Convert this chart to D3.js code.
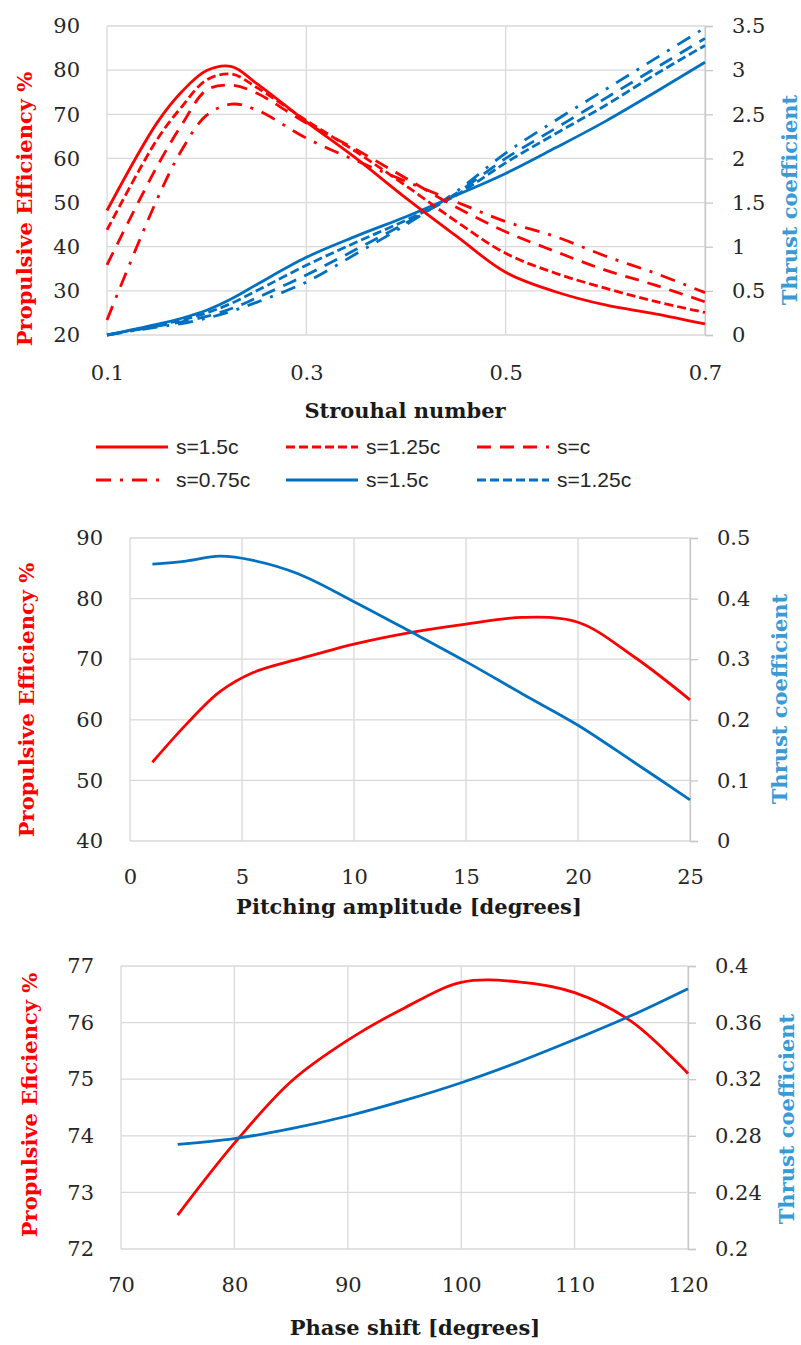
<!DOCTYPE html>
<html>
<head>
<meta charset="utf-8">
<script src="https://cdn.jsdelivr.net/npm/d3@7"></script>
<style>
  body { margin: 0; background: #fff; }
  svg { display: block; }
  .tick text { font-family: "DejaVu Serif", serif; font-size: 21px; fill: #262626; }
  .title { font-family: "DejaVu Serif", serif; font-size: 21px; font-weight: bold; }
  .legend text { font-family: "Liberation Sans", sans-serif; font-size: 21px; fill: #262626; }
</style>
</head>
<body>
<script>
// Strouhal number chart (top)
var st_x = [0.1, 0.15, 0.175, 0.2, 0.225, 0.25, 0.3, 0.35, 0.4, 0.45, 0.5, 0.55, 0.6, 0.65, 0.7];
var st_eff_150 = [48.2, 68.0, 75.1, 79.9, 80.8, 77.0, 68.3, 60.0, 51.0, 42.5, 34.2, 29.8, 26.8, 24.8, 22.5];
var st_eff_125 = [43.8, 64.2, 71.7, 77.8, 79.1, 76.1, 68.6, 61.5, 53.8, 45.8, 38.5, 34.0, 30.6, 27.6, 25.1];
var st_eff_100 = [35.9, 58.1, 67.6, 75.5, 76.6, 74.8, 68.0, 62.0, 55.5, 49.0, 43.4, 38.9, 34.7, 31.3, 27.5];
var st_eff_075 = [23.4, 50.6, 61.9, 69.8, 72.3, 71.0, 64.6, 59.5, 54.8, 50.2, 45.7, 42.3, 37.9, 34.0, 29.6];
var st_ct_150 = [0, 0.12, 0.19, 0.28, 0.41, 0.57, 0.88, 1.12, 1.34, 1.58, 1.83, 2.12, 2.42, 2.75, 3.09];
var st_ct_125 = [0, 0.11, 0.17, 0.25, 0.36, 0.50, 0.79, 1.05, 1.30, 1.58, 1.95, 2.28, 2.60, 2.95, 3.28];
var st_ct_100 = [0, 0.10, 0.15, 0.21, 0.30, 0.42, 0.68, 0.97, 1.27, 1.60, 2.00, 2.34, 2.68, 3.02, 3.36];
var st_ct_075 = [0, 0.09, 0.13, 0.19, 0.27, 0.37, 0.60, 0.92, 1.25, 1.62, 2.06, 2.43, 2.78, 3.13, 3.48];
var st_xticks = [0.1, 0.3, 0.5, 0.7];
var st_lticks = [20, 30, 40, 50, 60, 70, 80, 90];
var st_rticks = [0, 0.5, 1, 1.5, 2, 2.5, 3, 3.5];

// Pitching amplitude chart (middle)
var pa_x = [1, 2.5, 4, 5.5, 7.5, 10, 12.5, 15, 17.5, 20, 22.5, 25];
var pa_eff = [53.0, 59.2, 64.6, 67.8, 70.0, 72.5, 74.4, 75.8, 76.9, 76.1, 70.4, 63.3];
var pa_ct = [0.457, 0.462, 0.470, 0.463, 0.441, 0.395, 0.346, 0.296, 0.243, 0.191, 0.130, 0.068];
var pa_xticks = [0, 5, 10, 15, 20, 25];
var pa_lticks = [40, 50, 60, 70, 80, 90];
var pa_rticks = [0, 0.1, 0.2, 0.3, 0.4, 0.5];

// Phase shift chart (bottom)
var ps_x = [75, 80, 85, 90, 95, 100, 105, 110, 115, 120];
var ps_eff = [72.6, 73.87, 74.96, 75.69, 76.26, 76.71, 76.72, 76.53, 76.02, 75.10];
var ps_ct = [0.274, 0.278, 0.285, 0.294, 0.305, 0.3175, 0.332, 0.348, 0.365, 0.384];
var ps_xticks = [70, 80, 90, 100, 110, 120];
var ps_lticks = [72, 73, 74, 75, 76, 77];
var ps_rticks = [0.2, 0.24, 0.28, 0.32, 0.36, 0.4];

var legend_labels = ["s=1.5c", "s=1.25c", "s=c", "s=0.75c", "s=1.5c", "s=1.25c"];

var RED = "#ff0000", BLUE = "#0070c0", BLUE_T = "#3a9ad6", GRID = "#d9d9d9";
var dash = {solid: null, short: "9,4", mid: "14,9", dashdot: "15,9,3,9"};

var svg = d3.select("body").append("svg").attr("width", 801).attr("height", 1345);

function panel(p) {
    var x = d3.scaleLinear().domain(p.xdom).range([p.left, p.right]);
    var yl = d3.scaleLinear().domain(p.ldom).range([p.bottom, p.top]);
    var yr = d3.scaleLinear().domain(p.rdom).range([p.bottom, p.top]);
    var g = svg.append("g");

    // grid
    g.append("g").selectAll("line").data(p.lticks).enter().append("line")
        .attr("x1", p.left).attr("x2", p.right)
        .attr("y1", d => yl(d)).attr("y2", d => yl(d))
        .style("stroke", GRID).style("stroke-width", 1.3);
    g.append("g").selectAll("line").data(p.xticks).enter().append("line")
        .attr("x1", d => x(d)).attr("x2", d => x(d))
        .attr("y1", p.top).attr("y2", p.bottom)
        .style("stroke", GRID).style("stroke-width", 1.3);

    // left axis labels
    var la = g.append("g").attr("transform", "translate(" + p.left + ",0)")
        .call(d3.axisLeft(yl).tickValues(p.lticks).tickSize(0).tickPadding(27).tickFormat(d3.format("d")));
    la.select(".domain").remove();

    // right axis with outward ticks
    var ra = g.append("g").attr("transform", "translate(" + p.right + ",0)")
        .call(d3.axisRight(yr).tickValues(p.rticks).tickSize(8).tickPadding(19).tickFormat(d => String(d)));
    ra.select(".domain").style("stroke", "#c8c8c8").style("stroke-width", 1.3);
    ra.selectAll(".tick line").style("stroke", "#c8c8c8").style("stroke-width", 1.3);

    // bottom labels
    var ba = g.append("g").attr("transform", "translate(0," + p.bottom + ")")
        .call(d3.axisBottom(x).tickValues(p.xticks).tickSize(0).tickFormat(p.xfmt));
    ba.select(".domain").remove();
    ba.selectAll("text").attr("y", p.xlabOff).attr("dy", "0.35em");

    // series
    p.series.forEach(function(s) {
        var y = s.axis === "left" ? yl : yr;
        var line = d3.line().x((d, i) => x(p.x[i])).y(d => y(d)).curve(d3.curveCatmullRom.alpha(0.5));
        g.append("path").datum(s.values).attr("d", line)
            .style("fill", "none").style("stroke", s.color).style("stroke-width", 2.8)
            .style("stroke-dasharray", s.dash);
    });

    // titles
    g.append("text").attr("class", "title")
        .attr("transform", "translate(" + p.ltitle[0] + "," + p.ltitle[1] + ") rotate(-90)")
        .attr("text-anchor", "middle").attr("dy", "0.35em").style("fill", RED).text(p.ltext);
    g.append("text").attr("class", "title")
        .attr("transform", "translate(" + p.rtitle[0] + "," + p.rtitle[1] + ") rotate(-90)")
        .attr("text-anchor", "middle").attr("dy", "0.35em").style("fill", BLUE_T).text("Thrust coefficient");
    g.append("text").attr("class", "title")
        .attr("x", p.xtitle[0]).attr("y", p.xtitle[1]).attr("dy", "0.35em")
        .attr("text-anchor", "middle").style("fill", "#1a1a1a").text(p.xtext);
}

panel({
    x: st_x, xdom: [0.1, 0.7], ldom: [20, 90], rdom: [0, 3.5],
    left: 107, right: 705, top: 26, bottom: 335,
    xticks: st_xticks, lticks: st_lticks, rticks: st_rticks, xfmt: d3.format(".1f"), xlabOff: 38,
    ltitle: [25, 209], rtitle: [790, 200], xtitle: [405, 411],
    ltext: "Propulsive Efficiency %", xtext: "Strouhal number",
    series: [
        {values: st_ct_150, axis: "right", color: BLUE, dash: dash.solid},
        {values: st_ct_125, axis: "right", color: BLUE, dash: dash.short},
        {values: st_ct_100, axis: "right", color: BLUE, dash: dash.mid},
        {values: st_ct_075, axis: "right", color: BLUE, dash: dash.dashdot},
        {values: st_eff_150, axis: "left", color: RED, dash: dash.solid},
        {values: st_eff_125, axis: "left", color: RED, dash: dash.short},
        {values: st_eff_100, axis: "left", color: RED, dash: dash.mid},
        {values: st_eff_075, axis: "left", color: RED, dash: dash.dashdot}
    ]
});

panel({
    x: pa_x, xdom: [0, 25], ldom: [40, 90], rdom: [0, 0.5],
    left: 130, right: 690, top: 538, bottom: 841,
    xticks: pa_xticks, lticks: pa_lticks, rticks: pa_rticks, xfmt: d3.format("d"), xlabOff: 36,
    ltitle: [27, 700], rtitle: [780, 699], xtitle: [409, 907],
    ltext: "Propulsive Efficiency %", xtext: "Pitching amplitude [degrees]",
    series: [
        {values: pa_eff, axis: "left", color: RED, dash: dash.solid},
        {values: pa_ct, axis: "right", color: BLUE, dash: dash.solid}
    ]
});

panel({
    x: ps_x, xdom: [70, 120], ldom: [72, 77], rdom: [0.2, 0.4],
    left: 121, right: 688, top: 966, bottom: 1249,
    xticks: ps_xticks, lticks: ps_lticks, rticks: ps_rticks, xfmt: d3.format("d"), xlabOff: 36,
    ltitle: [30, 1105], rtitle: [787, 1119], xtitle: [415, 1328],
    ltext: "Propulsive Eficiency %", xtext: "Phase shift [degrees]",
    series: [
        {values: ps_eff, axis: "left", color: RED, dash: dash.solid},
        {values: ps_ct, axis: "right", color: BLUE, dash: dash.solid}
    ]
});

// legend for the top chart
var leg_items = [
    {color: RED, dash: dash.solid}, {color: RED, dash: dash.short}, {color: RED, dash: dash.mid},
    {color: RED, dash: dash.dashdot}, {color: BLUE, dash: dash.solid}, {color: BLUE, dash: dash.short}
];
var leg_cols = [96, 286, 477], leg_rows = [447, 480];
var legend = svg.append("g").attr("class", "legend");
leg_items.forEach(function(it, i) {
    var cx = leg_cols[i % 3], cy = leg_rows[Math.floor(i / 3)];
    legend.append("line").attr("x1", cx).attr("x2", cx + 72).attr("y1", cy).attr("y2", cy)
        .style("stroke", it.color).style("stroke-width", 3).style("stroke-dasharray", it.dash);
    legend.append("text").attr("x", cx + 80).attr("y", cy).attr("dy", "0.35em").text(legend_labels[i]);
});
</script>
</body>
</html>
